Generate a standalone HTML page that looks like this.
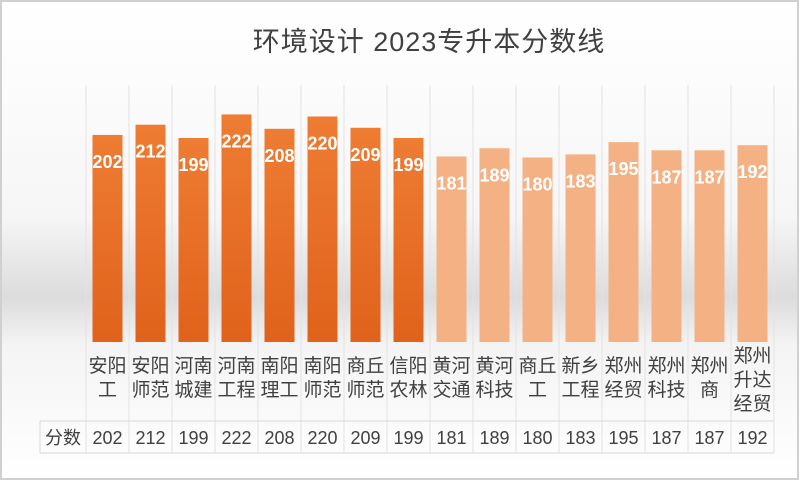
<!DOCTYPE html>
<html><head><meta charset="utf-8">
<style>
html,body{margin:0;padding:0;background:#fff;}
svg{display:block;font-family:"Liberation Sans","Noto Sans CJK SC",sans-serif;}
</style></head>
<body>
<svg id="chart" width="800" height="481" viewBox="0 0 800 481">
<defs>
<linearGradient id="bg" x1="0" y1="0" x2="0" y2="1">
<stop offset="0" stop-color="#ffffff"/>
<stop offset="0.45" stop-color="#f6f6f6"/>
<stop offset="0.62" stop-color="#dcdcdc"/>
<stop offset="0.72" stop-color="#f4f4f4"/>
<stop offset="1" stop-color="#ffffff"/>
</linearGradient>
<linearGradient id="dark" x1="0" y1="0" x2="0" y2="1">
<stop offset="0" stop-color="#ee7c33"/>
<stop offset="1" stop-color="#e0621b"/>
</linearGradient>
</defs>
<rect x="1" y="1" width="797" height="478" fill="url(#bg)" stroke="#d0d0d0" stroke-width="2"/>
<text x="429" y="51" text-anchor="middle" font-size="27" letter-spacing="1" fill="#404040">环境设计  2023专升本分数线</text>
<g id="grid"></g>
<g id="bars"></g>
<g id="cats"></g>
<g id="table"></g>
</svg>
<script>
const categories = [["安阳","工"],["安阳","师范"],["河南","城建"],["河南","工程"],["南阳","理工"],["南阳","师范"],["商丘","师范"],["信阳","农林"],["黄河","交通"],["黄河","科技"],["商丘","工"],["新乡","工程"],["郑州","经贸"],["郑州","科技"],["郑州","商"],["郑州","升达","经贸"]];
const scores = [202,212,199,222,208,220,209,199,181,189,180,183,195,187,187,192];
const darkCount = 8;
const seriesName = "分数";

const NS = "http://www.w3.org/2000/svg";
const x0 = 86, colW = 43, baseY = 342, pxPerUnit = 1.025, barW = 30;
function xCol(i){ return x0 + i*colW; }
function yVal(v){ return baseY - v*pxPerUnit; }
function mk(tag, attrs, parent){ const e=document.createElementNS(NS,tag); for(const k in attrs) e.setAttribute(k,attrs[k]); parent.appendChild(e); return e; }

const grid = document.getElementById('grid');
for(let i=0;i<=categories.length;i++){
  const l = mk('line',{x1:xCol(i),x2:xCol(i),y1:85,y2:453,stroke:'#e2e2e2','stroke-width':1},grid);
  
  
}
const bars = document.getElementById('bars');
const cats = document.getElementById('cats');
const table = document.getElementById('table');
const hl = mk('line',{x1:40,x2:xCol(categories.length),y1:421,y2:421,stroke:'#d8d8d8'},table);


const hl2 = mk('line',{x1:40,x2:xCol(categories.length),y1:453,y2:453,stroke:'#d8d8d8'},table);


const vl = mk('line',{x1:40,x2:40,y1:421,y2:453,stroke:'#d8d8d8'},table);


const hdr = mk('text',{x:63,y:444,'text-anchor':'middle','font-size':18,fill:'#404040'},table);
hdr.textContent = seriesName;



scores.forEach((v,i)=>{
  const cx = xCol(i)+colW/2;
  const r = mk('rect',{x:cx-barW/2,y:yVal(v),width:barW,height:baseY-yVal(v),fill: i<darkCount?'url(#dark)':'#f4b183'},bars);
  
  
  const t = mk('text',{x:cx,y:yVal(v)+33,'text-anchor':'middle','font-size':18,'font-weight':'bold',fill:'#ffffff'},bars);
  t.textContent = v;
  
  
  const lines = categories[i];
  const startY = lines.length===3 ? 362 : 372;
  lines.forEach((s,j)=>{
    const c = mk('text',{x:cx,y:startY+j*24,'text-anchor':'middle','font-size':19,fill:'#404040'},cats);
    c.textContent = s;
    
    
  });
  const tv = mk('text',{x:cx,y:444,'text-anchor':'middle','font-size':18,fill:'#404040'},table);
  tv.textContent = v;
  
  
});
</script>
</body></html>
